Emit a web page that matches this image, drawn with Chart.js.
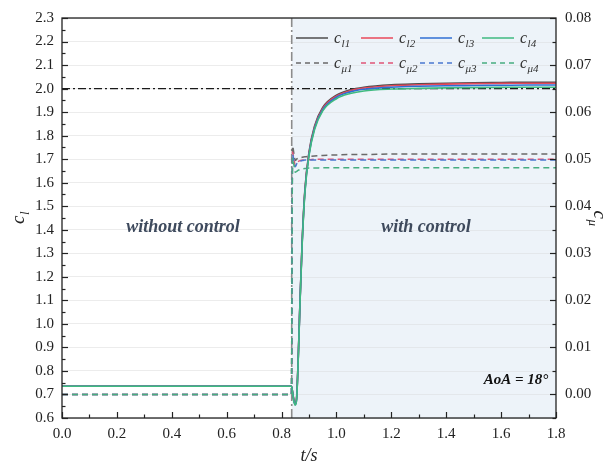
<!DOCTYPE html>
<html>
<head>
<meta charset="utf-8">
<script src="https://cdn.jsdelivr.net/npm/chart.js@4.4.1/dist/chart.umd.min.js"></script>
<style>
  html, body { margin: 0; padding: 0; background: #fff; }
  #wrap { width: 616px; height: 467px; position: relative; }
</style>
</head>
<body>
<div id="wrap"><canvas id="lift"></canvas></div>
<script>
// time samples (s), dense around the moment the control is switched on
const tSec = [0, 0.836, 0.840, 0.845, 0.850, 0.855, 0.860, 0.867, 0.875, 0.885, 0.900, 0.920,
              0.950, 1.000, 1.050, 1.100, 1.200, 1.300, 1.400, 1.500, 1.600, 1.700, 1.800];

// lift coefficient, cases 1-4
const cl1 = [0.735, 0.735, 0.712, 0.675, 0.660, 0.690, 0.830, 1.090, 1.350, 1.570, 1.730, 1.840,
             1.920, 1.972, 1.995, 2.006, 2.016, 2.020, 2.023, 2.025, 2.026, 2.027, 2.027];
const cl2 = [0.735, 0.735, 0.711, 0.673, 0.658, 0.686, 0.828, 1.088, 1.345, 1.565, 1.725, 1.835,
             1.915, 1.968, 1.991, 2.002, 2.012, 2.016, 2.019, 2.021, 2.022, 2.023, 2.023];
const cl3 = [0.735, 0.735, 0.710, 0.672, 0.657, 0.683, 0.825, 1.085, 1.340, 1.560, 1.720, 1.830,
             1.910, 1.963, 1.986, 1.997, 2.006, 2.010, 2.012, 2.013, 2.014, 2.015, 2.015];
const cl4 = [0.735, 0.735, 0.710, 0.670, 0.655, 0.680, 0.820, 1.080, 1.335, 1.555, 1.715, 1.825,
             1.905, 1.957, 1.979, 1.990, 1.998, 2.001, 2.003, 2.004, 2.005, 2.006, 2.006];

// momentum coefficient, cases 1-4
const cmu1 = [0, 0, 0.0528, 0.0512, 0.0497, 0.0500, 0.0502, 0.0503, 0.0504, 0.0505, 0.0506, 0.0507,
              0.0508, 0.0509, 0.0510, 0.0510, 0.0511, 0.0511, 0.0511, 0.0511, 0.0511, 0.0511, 0.0511];
const cmu2 = [0, 0, 0.0515, 0.0500, 0.0487, 0.0492, 0.0495, 0.0497, 0.0498, 0.0499, 0.0499, 0.0500,
              0.0500, 0.0500, 0.0500, 0.0500, 0.0500, 0.0500, 0.0500, 0.0500, 0.0500, 0.0500, 0.0500];
const cmu3 = [0, 0, 0.0510, 0.0497, 0.0484, 0.0490, 0.0494, 0.0496, 0.0497, 0.0498, 0.0498, 0.0498,
              0.0498, 0.0498, 0.0498, 0.0498, 0.0498, 0.0498, 0.0498, 0.0498, 0.0498, 0.0498, 0.0498];
const cmu4 = [0, 0, 0.0503, 0.0488, 0.0472, 0.0474, 0.0476, 0.0478, 0.0479, 0.0480, 0.0481, 0.0481,
              0.0482, 0.0482, 0.0482, 0.0482, 0.0482, 0.0482, 0.0482, 0.0482, 0.0482, 0.0482, 0.0482];

const tControl = 0.837;   // control switched on
const clRef = 2.0;        // reference lift level

const tTicks = [0, 0.2, 0.4, 0.6, 0.8, 1.0, 1.2, 1.4, 1.6, 1.8];
const clTicks = [0.6, 0.7, 0.8, 0.9, 1.0, 1.1, 1.2, 1.3, 1.4, 1.5, 1.6, 1.7, 1.8, 1.9, 2.0, 2.1, 2.2, 2.3];
const cmuTicks = [0, 0.01, 0.02, 0.03, 0.04, 0.05, 0.06, 0.07, 0.08];

const caseColors = ['#4d4d4d', '#e8495a', '#2f6fd3', '#3fba80'];
const dashColors = ['#6a6a6a', '#e05577', '#4a78d0', '#47ad80'];
const SERIF = '"Liberation Serif", "DejaVu Serif", serif';

const pts = arr => arr.map((v, i) => ({ x: tSec[i], y: v }));

const clSets = [cl1, cl2, cl3, cl4].map((arr, i) => ({
  label: 'cl' + (i + 1),
  data: pts(arr),
  yAxisID: 'y',
  borderColor: caseColors[i],
  borderWidth: 1.6,
  pointRadius: 0,
  cubicInterpolationMode: 'monotone',
  order: 4 - i          // case 4 ends up on top
}));
const cmuSets = [cmu1, cmu2, cmu3, cmu4].map((arr, i) => ({
  label: 'cmu' + (i + 1),
  data: pts(arr),
  yAxisID: 'y2',
  borderColor: dashColors[i],
  borderWidth: 1.5,
  borderDash: [6, 4],
  pointRadius: 0,
  cubicInterpolationMode: 'monotone',
  order: 10 - i
}));
const refSets = [
  {
    label: 'ref',
    data: [{ x: 0, y: clRef }, { x: 1.8, y: clRef }],
    yAxisID: 'y',
    borderColor: '#1a1a1a',
    borderWidth: 1.2,
    borderDash: [8, 3, 2, 3],
    pointRadius: 0,
    order: 20
  },
  {
    label: 'switch',
    data: [{ x: tControl, y: 0.6 }, { x: tControl, y: 2.3 }],
    yAxisID: 'y',
    borderColor: '#8c8c8c',
    borderWidth: 1.6,
    borderDash: [9, 3, 2, 3],
    pointRadius: 0,
    order: 21
  }
];

// blue band for the controlled part of the run
const bandPlugin = {
  id: 'band',
  beforeDatasetsDraw(chart) {
    const { ctx, chartArea: a, scales } = chart;
    const x0 = scales.x.getPixelForValue(tControl);
    ctx.save();
    ctx.fillStyle = '#edf3f9';
    ctx.fillRect(x0, a.top, a.right - x0, a.bottom - a.top);
    // grid lines again on top of the band
    ctx.strokeStyle = '#e3e7eb';
    ctx.lineWidth = 1;
    clTicks.forEach(v => {
      const y = Math.round(scales.y.getPixelForValue(v)) + 0.5;
      ctx.beginPath();
      ctx.moveTo(x0, y);
      ctx.lineTo(a.right, y);
      ctx.stroke();
    });
    ctx.restore();
  }
};

function drawSub(ctx, x, y, base, sub, size, align) {
  // italic letter with a subscript
  const f1 = 'italic ' + size + 'px ' + SERIF;
  const f2 = 'italic ' + Math.round(size * 0.68) + 'px ' + SERIF;
  ctx.font = f1;
  const w1 = ctx.measureText(base).width;
  ctx.font = f2;
  const w2 = ctx.measureText(sub).width;
  let sx = x;
  if (align === 'center') sx = x - (w1 + w2) / 2;
  ctx.textAlign = 'left';
  ctx.textBaseline = 'alphabetic';
  ctx.font = f1;
  ctx.fillText(base, sx, y);
  ctx.font = f2;
  ctx.fillText(sub, sx + w1 + 0.5, y + size * 0.28);
}

const decorPlugin = {
  id: 'decor',
  afterDraw(chart) {
    const { ctx, chartArea: a, scales } = chart;
    ctx.save();

    // inward tick marks
    ctx.strokeStyle = '#222';
    ctx.lineWidth = 1.2;
    const tick = (x1, y1, x2, y2) => { ctx.beginPath(); ctx.moveTo(x1, y1); ctx.lineTo(x2, y2); ctx.stroke(); };
    for (let k = 0; k <= 34; k++) {
      const y = Math.round(scales.y.getPixelForValue(0.6 + k * 0.05)) + 0.5;
      tick(a.left, y, a.left + (k % 2 === 0 ? 6 : 3.5), y);
    }
    for (let k = 0; k <= 17; k++) {
      const y = Math.round(scales.y2.getPixelForValue(-0.005 + k * 0.005)) + 0.5;
      tick(a.right, y, a.right - (k % 2 === 1 ? 6 : 3.5), y);
    }
    for (let k = 0; k <= 18; k++) {
      const x = Math.round(scales.x.getPixelForValue(k * 0.1)) + 0.5;
      tick(x, a.bottom, x, a.bottom - (k % 2 === 0 ? 6 : 3.5));
    }

    // frame
    ctx.strokeStyle = '#222';
    ctx.lineWidth = 1.3;
    ctx.strokeRect(a.left, a.top, a.right - a.left, a.bottom - a.top);

    // region labels
    const yMid = scales.y.getPixelForValue(1.41);
    ctx.fillStyle = '#3e4a5d';
    ctx.font = 'italic bold 18px ' + SERIF;
    ctx.textAlign = 'center';
    ctx.textBaseline = 'middle';
    ctx.fillText('without control', 183, yMid);
    ctx.fillText('with control', 426, yMid);

    ctx.fillStyle = '#111';
    ctx.font = 'italic bold 15px ' + SERIF;
    ctx.fillText('AoA = 18\u00b0', 516, 380);

    // legend
    const rows = [
      { y: 38, sub: ['l1', 'l2', 'l3', 'l4'], colors: caseColors, dash: [] },
      { y: 63, sub: ['\u03bc1', '\u03bc2', '\u03bc3', '\u03bc4'], colors: dashColors, dash: [5, 4] }
    ];
    const lineX = [296, 361, 420, 482];
    rows.forEach(r => {
      r.sub.forEach((s, i) => {
        ctx.strokeStyle = r.colors[i];
        ctx.lineWidth = 1.5;
        ctx.setLineDash(r.dash);
        ctx.beginPath();
        ctx.moveTo(lineX[i], r.y);
        ctx.lineTo(lineX[i] + 32, r.y);
        ctx.stroke();
        ctx.setLineDash([]);
        ctx.fillStyle = '#333';
        drawSub(ctx, lineX[i] + 38, r.y + 5, 'c', s, 16);
      });
    });

    // axis titles
    ctx.fillStyle = '#222';
    const yc = (a.top + a.bottom) / 2;
    ctx.save();
    ctx.translate(24, yc);
    ctx.rotate(-Math.PI / 2);
    drawSub(ctx, 0, 0, 'c', 'l', 19, 'center');
    ctx.restore();
    ctx.save();
    ctx.translate(594, yc);
    ctx.rotate(Math.PI / 2);
    drawSub(ctx, 0, 0, 'c', '\u03bc', 19, 'center');
    ctx.restore();
    ctx.font = 'italic 18px ' + SERIF;
    ctx.textAlign = 'center';
    ctx.textBaseline = 'alphabetic';
    ctx.fillText('t/s', (a.left + a.right) / 2, 461);

    ctx.restore();
  }
};

const tickFont = { family: SERIF, size: 15 };

new Chart(document.getElementById('lift'), {
  type: 'line',
  data: { datasets: [...clSets, ...cmuSets, ...refSets] },
  options: {
    responsive: true,
    maintainAspectRatio: false,
    animation: false,
    layout: { padding: { top: 15, left: 0, right: 0, bottom: 0 } },
    plugins: { legend: { display: false }, tooltip: { enabled: false } },
    scales: {
      x: {
        type: 'linear',
        min: 0,
        max: 1.8,
        afterBuildTicks: s => { s.ticks = tTicks.map(v => ({ value: v })); },
        afterFit: s => { s.height = 49; },
        grid: { display: false, drawTicks: false },
        border: { display: false },
        ticks: { color: '#222', font: tickFont, padding: 7, maxRotation: 0,
                 callback: v => v.toFixed(1) }
      },
      y: {
        position: 'left',
        min: 0.6,
        max: 2.3,
        afterBuildTicks: s => { s.ticks = clTicks.map(v => ({ value: v })); },
        afterFit: s => { s.width = 62; },
        grid: { color: '#ececec', drawTicks: false },
        border: { display: false },
        ticks: { color: '#222', font: tickFont, padding: 8,
                 callback: v => v.toFixed(1) }
      },
      y2: {
        position: 'right',
        min: -0.005,
        max: 0.08,
        afterBuildTicks: s => { s.ticks = cmuTicks.map(v => ({ value: v })); },
        afterFit: s => { s.width = 60; },
        grid: { display: false, drawTicks: false },
        border: { display: false },
        ticks: { color: '#222', font: tickFont, padding: 9,
                 callback: v => v.toFixed(2) }
      }
    }
  },
  plugins: [bandPlugin, decorPlugin]
});
</script>
</body>
</html>
